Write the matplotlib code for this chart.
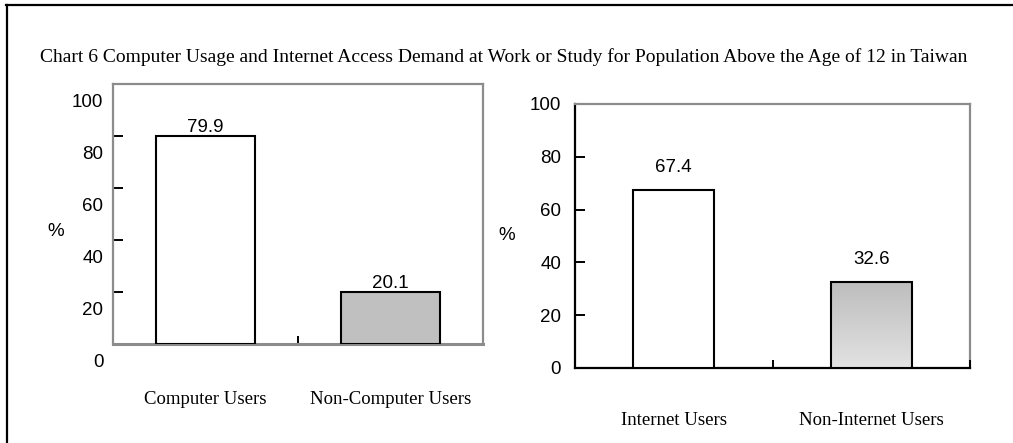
"""
Computer usage and internet access demand at work or study,
population above the age of 12 in Taiwan (two bar panels).
"""

import numpy as np
import matplotlib.pyplot as plt
from matplotlib.colors import LinearSegmentedColormap

# Panel data
computer_labels = ["Computer Users", "Non-Computer Users"]
computer_values = [79.9, 20.1]

internet_labels = ["Internet Users", "Non-Internet Users"]
internet_values = [67.4, 32.6]

y_ticks = [0, 20, 40, 60, 80, 100]

TITLE = ("Chart 6 Computer Usage and Internet Access Demand at Work or Study "
         "for Population Above the Age of 12 in Taiwan")

SANS = "Liberation Sans"
SERIF = "Liberation Serif"
GRAY_SPINE = "#8c8c8c"


def style_axes(ax, labels, label_pad, ytick_pad):
    ax.set_xlim(-0.5, 1.5)
    ax.set_ylim(0, 100)
    ax.set_yticks(y_ticks)
    ax.set_yticklabels([str(t) for t in y_ticks], fontsize=13.5, family=SANS)
    ax.tick_params(axis="y", direction="in", length=7, width=1.4, color="black", pad=ytick_pad)
    ax.set_xticks([0, 1])
    ax.set_xticklabels(labels, fontsize=13.5, family=SERIF)
    ax.tick_params(axis="x", which="major", length=0, pad=label_pad)
    ax.set_xticks([0.5, 1.5], minor=True)
    ax.tick_params(axis="x", which="minor", direction="in", length=6, width=1.4, color="black")


fig = plt.figure(figsize=(10.13, 4.43), dpi=100)

# outer frame (only top and left edges show)
fig.add_artist(plt.Line2D([0.006, 1.0], [0.988, 0.988], transform=fig.transFigure,
                          color="black", lw=1.6))
fig.add_artist(plt.Line2D([0.0065, 0.0065], [0.0, 0.988], transform=fig.transFigure,
                          color="black", lw=1.6))

fig.text(0.497, 0.871, TITLE, ha="center", va="center", fontsize=14, family=SERIF)

# left panel: computer usage
ax1 = fig.add_axes([113 / 1013, 1 - 344 / 443, 370 / 1013, 260 / 443])
ax1.bar([0, 1], computer_values, width=0.53, color=["white", "#c0c0c0"],
        edgecolor="black", linewidth=1.5, zorder=3)
for x, v in zip([0, 1], computer_values):
    ax1.annotate(f"{v}", (x, v), xytext=(0, 0), textcoords="offset points",
                 ha="center", va="bottom", fontsize=13.5, family=SANS)
style_axes(ax1, computer_labels, 34, 7)
ax1.set_xticks([0.5], minor=True)
for name, sp in ax1.spines.items():
    sp.set_color(GRAY_SPINE)
    sp.set_linewidth(2.2 if name == "bottom" else 1.6)
# y labels here sit a little below their ticks
ax1.set_yticklabels([""] * len(y_ticks))
for t in y_ticks:
    ax1.annotate(str(t), (0, t), xycoords=("axes fraction", "data"),
                 xytext=(-7, -13.5), textcoords="offset points",
                 ha="right", va="center", fontsize=13.5, family=SANS,
                 annotation_clip=False)
fig.text(56 / 1013, 1 - 232 / 443, "%", ha="center", va="center",
         fontsize=13.5, family=SANS)

# right panel: internet access
ax2 = fig.add_axes([575 / 1013, 1 - 368 / 443, 395 / 1013, 264 / 443])
ax2.bar([0], internet_values[:1], width=0.41, color="white",
        edgecolor="black", linewidth=1.5, zorder=3)
grad_bar = ax2.bar([1], internet_values[1:], width=0.41, color="none",
                   edgecolor="black", linewidth=1.5, zorder=4)[0]
cmap = LinearSegmentedColormap.from_list("bar_fade", ["#e2e2e2", "#bdbdbd"])
x0 = grad_bar.get_x()
ramp = np.linspace(0, 1, 256).reshape(-1, 1)
img = ax2.imshow(ramp, cmap=cmap, origin="lower", aspect="auto",
                 extent=[x0, x0 + grad_bar.get_width(), 0, grad_bar.get_height()],
                 zorder=3)
img.set_clip_path(grad_bar)
for x, v in zip([0, 1], internet_values):
    ax2.annotate(f"{v}", (x, v), xytext=(0, 10), textcoords="offset points",
                 ha="center", va="bottom", fontsize=13.5, family=SANS)
style_axes(ax2, internet_labels, 32, 10)
for name, sp in ax2.spines.items():
    sp.set_linewidth(1.6)
    sp.set_color("black" if name in ("left", "bottom") else GRAY_SPINE)
ax2.spines["right"].set_zorder(1)
fig.text(507 / 1013, 1 - 236 / 443, "%", ha="center", va="center",
         fontsize=13.5, family=SANS)

fig.savefig("out.png", dpi=100)
